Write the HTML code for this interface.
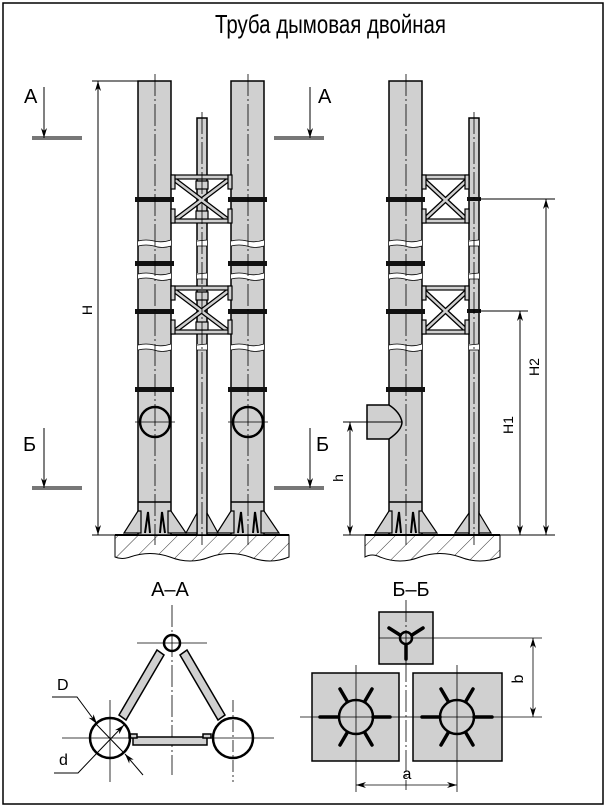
<!DOCTYPE html>
<html><head><meta charset="utf-8"><style>
html,body{margin:0;padding:0;background:#fff}
svg{display:block}
text{font-family:"Liberation Sans",sans-serif;fill:#000}
</style></head><body>
<svg width="607" height="808" viewBox="0 0 607 808" xmlns="http://www.w3.org/2000/svg">
<defs>
<pattern id="hatch" width="14" height="14" patternUnits="userSpaceOnUse" patternTransform="rotate(45)">
<line x1="0" y1="0" x2="0" y2="14" stroke="#000" stroke-width="0.8"/>
</pattern>
<marker id="ar" viewBox="0 0 10 6" refX="10" refY="3" markerWidth="10" markerHeight="6" orient="auto-start-reverse" markerUnits="userSpaceOnUse">
<path d="M0,0 L10,3 L0,6 L3,3 z" fill="#000"/>
</marker>
<g id="brk">
<path d="M0,0 Q8,-2 16,0 Q24,2 33,-1 L33,5 Q24,8 16,5 Q8,3 0,5 Z" fill="#fff"/>
<path d="M0,0 Q8,-2 16,0 Q24,2 33,-1 M0,5 Q8,3 16,5 Q24,8 33,5" fill="none" stroke="#000" stroke-width="0.8"/>
</g>
<g id="brkm">
<rect x="0" y="-1" width="10" height="6" fill="#fff"/>
<path d="M0,0 L10,-1 M0,5 L10,5" stroke="#000" stroke-width="0.8"/>
</g>
</defs>
<rect x="3" y="3" width="600" height="801" fill="none" stroke="#000" stroke-width="1.5"/>
<text x="215" y="33" font-size="26" textLength="231" lengthAdjust="spacingAndGlyphs">Труба дымовая двойная</text>

<!-- ===== LEFT ELEVATION ===== -->
<path d="M115,535 L289,535 L289,557 Q270,565 250,557 Q230,550 210,557 Q190,565 170,557 Q150,550 130,557 Q122,560 115,557 Z" fill="url(#hatch)" stroke="#000" stroke-width="1"/>
<line x1="115" y1="535" x2="289" y2="535" stroke="#000" stroke-width="2"/>
<line x1="92" y1="535" x2="115" y2="535" stroke="#000" stroke-width="1"/>

<g stroke="#000" stroke-width="1.5" fill="#d0d0d0">
<rect x="138" y="81" width="33" height="454"/>
<rect x="231" y="81" width="33" height="454"/>
<rect x="197" y="118" width="10" height="417"/>
<rect x="389" y="81" width="33" height="454"/>
<rect x="469" y="118" width="10" height="417"/>
</g>
<g stroke="#000" stroke-width="1.5">
<line x1="138" y1="502" x2="171" y2="502"/><line x1="231" y1="502" x2="264" y2="502"/><line x1="389" y1="502" x2="422" y2="502"/>
</g>
<g fill="#d0d0d0" stroke="#000" stroke-width="1.2">
<polygon points="124,533 138,511 141,511 141,533"/><polygon points="168,511 171,511 186,533 168,533"/>
<polygon points="217,533 231,511 234,511 234,533"/><polygon points="261,511 264,511 279,533 261,533"/>
<polygon points="186,533 197,513 197,533"/><polygon points="207,513 218,533 207,533"/>
<polygon points="375,533 389,511 392,511 392,533"/><polygon points="419,511 422,511 437,533 419,533"/>
<polygon points="455,533 469,513 469,533"/><polygon points="479,513 491,533 479,533"/>
</g>
<g stroke="#000" stroke-width="2" fill="none">
<path d="M145,533 L148,512 L150,533 M160,533 L162,512 L165,533"/>
<path d="M238,533 L241,512 L243,533 M253,533 L255,512 L258,533"/>
<path d="M396,533 L399,512 L401,533 M411,533 L413,512 L416,533"/>
</g>
<g fill="#111">
<rect x="135" y="197" width="39" height="5"/><rect x="135" y="261" width="39" height="5"/><rect x="135" y="309" width="39" height="5"/><rect x="135" y="387" width="39" height="5"/>
<rect x="228" y="197" width="39" height="5"/><rect x="228" y="261" width="39" height="5"/><rect x="228" y="309" width="39" height="5"/><rect x="228" y="387" width="39" height="5"/>
<rect x="386" y="197" width="39" height="5"/><rect x="386" y="261" width="39" height="5"/><rect x="386" y="309" width="39" height="5"/><rect x="386" y="387" width="39" height="5"/>
<rect x="467" y="197" width="14" height="4"/><rect x="467" y="309" width="14" height="4"/>
</g>
<g id="br">
<g stroke="#000" stroke-width="5"><line x1="175" y1="180" x2="228" y2="220"/><line x1="175" y1="220" x2="228" y2="180"/></g>
<g stroke="#d0d0d0" stroke-width="2.5"><line x1="175" y1="180" x2="228" y2="220"/><line x1="175" y1="220" x2="228" y2="180"/></g>
<g fill="#d0d0d0" stroke="#000" stroke-width="1.2">
<rect x="172" y="175" width="59" height="4"/><rect x="172" y="219" width="59" height="4"/>
<rect x="171" y="175" width="4" height="14"/><rect x="171" y="209" width="4" height="14"/>
<rect x="228" y="175" width="4" height="14"/><rect x="228" y="209" width="4" height="14"/>
<rect x="196" y="181" width="12" height="8"/><rect x="196" y="211" width="12" height="8"/>
</g>
</g>
<use href="#br" transform="translate(0,111)"/>
<g id="br2">
<g stroke="#000" stroke-width="5"><line x1="424" y1="180" x2="467" y2="220"/><line x1="424" y1="220" x2="467" y2="180"/></g>
<g stroke="#d0d0d0" stroke-width="2.5"><line x1="424" y1="180" x2="467" y2="220"/><line x1="424" y1="220" x2="467" y2="180"/></g>
<g fill="#d0d0d0" stroke="#000" stroke-width="1.2">
<rect x="423" y="175" width="46" height="4"/><rect x="423" y="219" width="46" height="4"/>
<rect x="422" y="175" width="4" height="14"/><rect x="422" y="209" width="4" height="14"/>
<rect x="465" y="175" width="4" height="14"/><rect x="465" y="209" width="4" height="14"/>
</g>
</g>
<use href="#br2" transform="translate(0,111)"/>
<!-- breaks -->
<use href="#brk" x="138" y="241"/><use href="#brk" x="231" y="241"/><use href="#brk" x="389" y="241"/>
<use href="#brk" x="138" y="274"/><use href="#brk" x="231" y="274"/><use href="#brk" x="389" y="274"/>
<use href="#brk" x="138" y="345"/><use href="#brk" x="231" y="345"/><use href="#brk" x="389" y="345"/>
<use href="#brkm" x="197" y="241"/><use href="#brkm" x="197" y="274"/><use href="#brkm" x="197" y="345"/>
<use href="#brkm" x="469" y="241"/><use href="#brkm" x="469" y="274"/><use href="#brkm" x="469" y="345"/>
<g fill="none" stroke="#000" stroke-width="2.5">
<circle cx="155" cy="422" r="15"/><circle cx="248" cy="422" r="15"/>
</g>
<g stroke="#000" stroke-width="0.8" stroke-dasharray="22,3,2,3">
<line x1="155" y1="74" x2="155" y2="545"/><line x1="248" y1="74" x2="248" y2="545"/><line x1="202" y1="112" x2="202" y2="545"/>
<line x1="406" y1="74" x2="406" y2="545"/><line x1="474" y1="112" x2="474" y2="545"/>
</g>
<g stroke="#000" stroke-width="0.8">
<line x1="135" y1="422" x2="175" y2="422"/><line x1="228" y1="422" x2="268" y2="422"/>
</g>
<g fill="#777"><rect x="32" y="136" width="50" height="4"/><rect x="274" y="136" width="50" height="4"/>
<rect x="32" y="486" width="50" height="4"/><rect x="274" y="486" width="50" height="4"/></g>
<g stroke="#000" stroke-width="1">
<line x1="44" y1="87" x2="44" y2="138" marker-end="url(#ar)"/>
<line x1="310" y1="87" x2="310" y2="138" marker-end="url(#ar)"/>
<line x1="44" y1="428" x2="44" y2="488" marker-end="url(#ar)"/>
<line x1="310" y1="428" x2="310" y2="488" marker-end="url(#ar)"/>
</g>
<text x="24" y="103" font-size="20">А</text>
<text x="318" y="103" font-size="20">А</text>
<text x="23" y="451" font-size="20">Б</text>
<text x="316" y="451" font-size="20">Б</text>
<g stroke="#000" stroke-width="1">
<line x1="92" y1="81" x2="138" y2="81"/>
<line x1="98" y1="81" x2="98" y2="535" marker-start="url(#ar)" marker-end="url(#ar)"/>
</g>
<text transform="translate(92,310) rotate(-90)" font-size="14" text-anchor="middle">H</text>

<!-- ===== RIGHT ELEVATION ===== -->
<path d="M365,535 L500,535 L500,557 Q480,565 460,557 Q440,550 420,557 Q400,565 380,557 Q372,553 365,557 Z" fill="url(#hatch)" stroke="#000" stroke-width="1"/>
<line x1="365" y1="535" x2="500" y2="535" stroke="#000" stroke-width="2"/>
<path d="M389,405 L367,405 L367,439 L389,439 Q402,430 402,422 Q400,412 389,405 Z" fill="#d0d0d0" stroke="#000" stroke-width="1.5"/>
<g stroke="#000" stroke-width="1">
<line x1="479" y1="199" x2="555" y2="199"/>
<line x1="479" y1="311" x2="528" y2="311"/>
<line x1="343" y1="422" x2="402" y2="422"/>
<line x1="343" y1="535" x2="365" y2="535"/><line x1="500" y1="535" x2="555" y2="535"/>
<line x1="546" y1="199" x2="546" y2="535" marker-start="url(#ar)" marker-end="url(#ar)"/>
<line x1="520" y1="311" x2="520" y2="535" marker-start="url(#ar)" marker-end="url(#ar)"/>
<line x1="350" y1="422" x2="350" y2="535" marker-start="url(#ar)" marker-end="url(#ar)"/>
</g>
<text transform="translate(539,367) rotate(-90)" font-size="14" text-anchor="middle">H2</text>
<text transform="translate(513,425) rotate(-90)" font-size="14" text-anchor="middle">H1</text>
<text transform="translate(343,478) rotate(-90)" font-size="14" text-anchor="middle">h</text>

<text x="170" y="596" font-size="20" text-anchor="middle">А–А</text>
<text x="411" y="596" font-size="20" text-anchor="middle">Б–Б</text>

<!-- ===== SECTION A-A ===== -->
<g stroke="#000" stroke-width="0.8">
<line x1="172" y1="605" x2="172" y2="775" stroke-dasharray="22,3,2,3"/>
<line x1="137" y1="643" x2="207" y2="643"/>
<line x1="62" y1="738" x2="274" y2="738"/>
<line x1="110" y1="700" x2="110" y2="782"/><line x1="233" y1="700" x2="233" y2="782" stroke-dasharray="12,3,2,3"/>
</g>
<g fill="#d0d0d0" stroke="#000" stroke-width="1.5">
<polygon points="157,650 164,655 126,720 119,715"/>
<polygon points="187,650 180,655 218,720 225,715"/>
<rect x="133" y="737" width="74" height="8"/>
<rect x="129" y="734" width="8" height="4"/><rect x="203" y="734" width="8" height="4"/>
</g>
<g fill="none" stroke="#000" stroke-width="2.5">
<circle cx="172" cy="643" r="8"/><circle cx="110" cy="738" r="20"/><circle cx="233" cy="738" r="20"/>
</g>
<g stroke="#000" stroke-width="1" fill="none">
<path d="M52,697 L77,697 L97,724" marker-end="url(#ar)"/>
<line x1="96" y1="724" x2="124" y2="753"/>
<line x1="143" y1="775" x2="125" y2="754" marker-end="url(#ar)"/>
<path d="M54,773 L78,773 L98,752" />
<line x1="98" y1="752" x2="124" y2="725" marker-end="url(#ar)"/>
</g>
<text x="57" y="690" font-size="16">D</text>
<text x="59" y="765" font-size="16">d</text>

<!-- ===== SECTION Б-Б ===== -->
<g fill="#d0d0d0" stroke="#000" stroke-width="1.5">
<rect x="379" y="612" width="54" height="52"/>
<rect x="312" y="673" width="87" height="88"/>
<rect x="413" y="673" width="89" height="88"/>
</g>
<g stroke="#000" stroke-width="0.8">
<line x1="406" y1="600" x2="406" y2="790" stroke-dasharray="22,3,2,3"/>
<line x1="379" y1="638" x2="542" y2="638"/>
<line x1="300" y1="717" x2="542" y2="717"/>
<line x1="356" y1="665" x2="356" y2="792"/><line x1="457" y1="665" x2="457" y2="792"/>
<line x1="533" y1="638" x2="533" y2="717" marker-start="url(#ar)" marker-end="url(#ar)"/>
<line x1="356" y1="785" x2="457" y2="785" marker-start="url(#ar)" marker-end="url(#ar)"/>
</g>
<g stroke="#000" stroke-width="3.5" stroke-linecap="round">
<line x1="400" y1="635" x2="389" y2="628"/><line x1="412" y1="635" x2="423" y2="628"/><line x1="406" y1="645" x2="406" y2="659"/>
<line x1="320" y1="717" x2="338" y2="717"/><line x1="373" y1="717" x2="390" y2="717"/>
<line x1="347" y1="701" x2="340" y2="689"/><line x1="365" y1="701" x2="372" y2="689"/>
<line x1="347" y1="733" x2="340" y2="745"/><line x1="365" y1="733" x2="372" y2="745"/>
<line x1="422" y1="717" x2="440" y2="717"/><line x1="474" y1="717" x2="492" y2="717"/>
<line x1="448" y1="701" x2="441" y2="689"/><line x1="466" y1="701" x2="473" y2="689"/>
<line x1="448" y1="733" x2="441" y2="745"/><line x1="466" y1="733" x2="473" y2="745"/>
</g>
<g fill="none" stroke="#000" stroke-width="2.5">
<circle cx="406" cy="638" r="6"/><circle cx="356" cy="717" r="17"/><circle cx="457" cy="717" r="17"/>
</g>
<text x="407" y="779" font-size="16" text-anchor="middle">a</text>
<text transform="translate(523,679) rotate(-90)" font-size="16" text-anchor="middle">b</text>
</svg>
</body></html>
